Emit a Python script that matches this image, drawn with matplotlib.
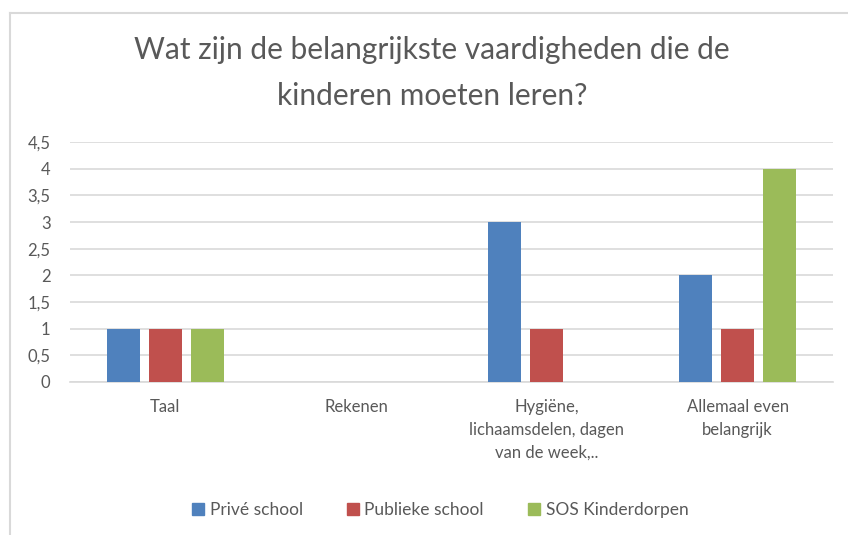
import matplotlib
matplotlib.use("Agg")
import matplotlib.pyplot as plt
import numpy as np
from matplotlib.lines import Line2D

categories = ["Taal", "Rekenen", "Hygiëne,\nlichaamsdelen, dagen\nvan de week,..", "Allemaal even\nbelangrijk"]
series_names = ["Privé school", "Publieke school", "SOS Kinderdorpen"]
prive = [1, 0, 3, 2]
publiek = [1, 0, 1, 1]
sos = [1, 0, 0, 4]
yticks = [0, 0.5, 1, 1.5, 2, 2.5, 3, 3.5, 4, 4.5]
ytick_labels = ["0", "0,5", "1", "1,5", "2", "2,5", "3", "3,5", "4", "4,5"]

colors = ["#4F81BD", "#C0504D", "#9BBB59"]
textc = "#595959"
plt.rcParams['font.family'] = ['Lato', 'DejaVu Sans']

W, H = 848, 535
fig = plt.figure(figsize=(W/100, H/100), dpi=100)
ax = fig.add_axes([70/W, 1-382/H, (833-70)/W, (382-142)/H])

x = np.arange(len(categories))
bw = 0.173
step = 0.22
for i, (vals, c, name) in enumerate(zip([prive, publiek, sos], colors, series_names)):
    v = np.array(vals, dtype=float)
    ax.bar(x + (i-1)*step, v, width=bw, color=c, label=name, zorder=3)

ax.set_xlim(-0.5, len(categories)-0.5)
ax.set_ylim(0, 4.5)
ax.set_yticks(yticks)
ax.set_yticklabels(ytick_labels, color=textc, fontsize=12)
ax.set_xticks(x)
ax.set_xticklabels(categories, color=textc, fontsize=12, linespacing=1.55)
ax.tick_params(axis='both', length=0)
ax.tick_params(axis='y', pad=14)
ax.tick_params(axis='x', pad=12)
ax.grid(axis='y', color="#D9D9D9", linewidth=1.2, zorder=0)
for s in ["top", "right", "left"]:
    ax.spines[s].set_visible(False)
ax.spines["bottom"].set_color("#D9D9D9")
ax.spines["bottom"].set_linewidth(1.2)

fig.text(432/W, 1-50/H, "Wat zijn de belangrijkste vaardigheden die de", ha='center', va='center', fontsize=21.5, color=textc)
fig.text(432/W, 1-96/H, "kinderen moeten leren?", ha='center', va='center', fontsize=21.5, color=textc)

handles = [Line2D([0], [0], marker='s', color='none', markerfacecolor=c, markeredgecolor=c, markersize=8) for c in colors]
fig.legend(handles, series_names, loc='center', bbox_to_anchor=(439/W, 1-510/H), ncol=3, frameon=False,
           fontsize=12.5, labelcolor=textc, handletextpad=0.15, columnspacing=2.4, handlelength=1.0)

# chart border (left and top)
fig.add_artist(Line2D([10/W, 10/W], [0, 1-13/H], transform=fig.transFigure, color="#D9D9D9", linewidth=1.5))
fig.add_artist(Line2D([10/W, 1], [1-13/H, 1-13/H], transform=fig.transFigure, color="#D9D9D9", linewidth=1.5))

fig.savefig("out.png", dpi=100)
